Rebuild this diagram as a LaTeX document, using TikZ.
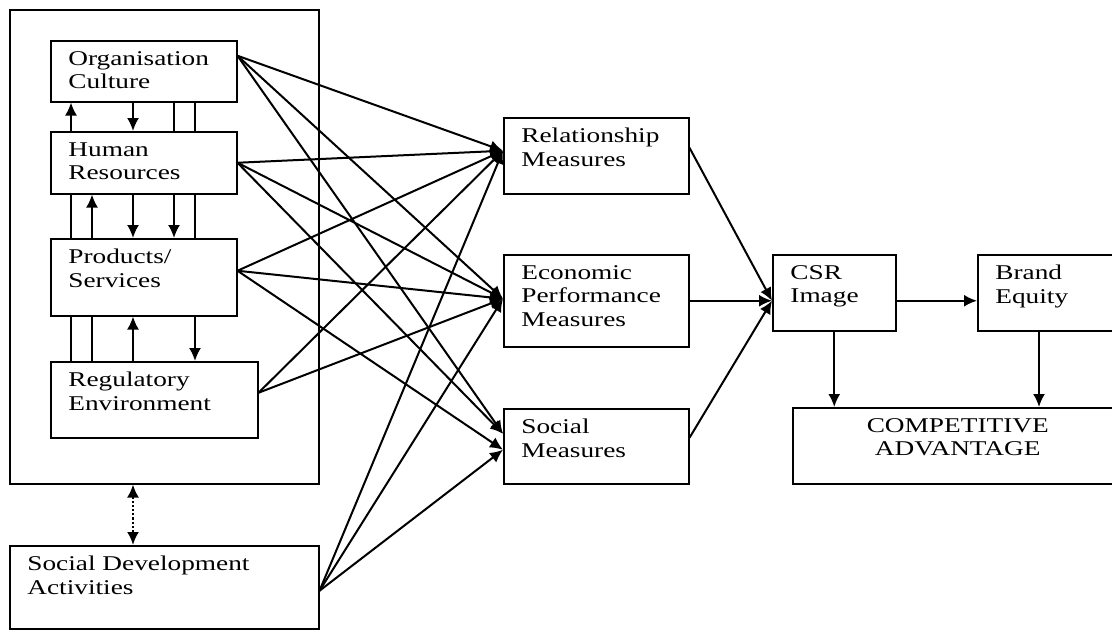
\documentclass[tikz,border=0pt]{standalone}
\usepackage{fontspec}
\setmainfont[FakeStretch=1.3]{Liberation Serif}
\usetikzlibrary{arrows.meta}
\usetikzlibrary{backgrounds}

\begin{document}
\begin{tikzpicture}[x=0.5pt,y=-0.5pt,>={Latex[length=6.5pt,width=6pt]}]
    \tikzstyle{box}=[rectangle,draw,line width=0.75pt,fill=white,anchor=north west,inner sep=0pt]
    \tikzstyle{txt}=[anchor=north west,align=left,inner xsep=9pt,inner ysep=5.5pt,font=\fontsize{10.5}{11.8}\selectfont]
    \tikzstyle{txtc}=[anchor=north,align=center,inner ysep=5.5pt,font=\fontsize{10.5}{11.8}\selectfont]
    \tikzstyle{link}=[->,line width=1pt]
    \clip (0,0) rectangle (1112,632);
    % left block
    \node[box,fill=none,minimum width=154.5pt,minimum height=237pt] (org) at (9,9) {};
    \node[box,minimum width=93pt,minimum height=30.5pt,label={[txt]north west:Organisation\\Culture}] (oc) at (50,40) {};
    \node[box,minimum width=93pt,minimum height=31pt,label={[txt]north west:Human\\Resources}] (hr) at (50,131) {};
    \node[box,minimum width=93pt,minimum height=38.5pt,label={[txt]north west:Products/\\Services}] (ps) at (50,238) {};
    \node[box,minimum width=103.5pt,minimum height=38pt,label={[txt]north west:Regulatory\\Environment}] (re) at (50,361) {};
    \node[box,minimum width=154.5pt,minimum height=41.5pt,label={[txt]north west:Social Development\\Activities}] (sda) at (9,545) {};
    % measures
    \node[box,minimum width=92.5pt,minimum height=38pt,label={[txt]north west:Relationship\\Measures}] (rel) at (503,117) {};
    \node[box,minimum width=92.5pt,minimum height=46pt,label={[txt]north west:Economic\\Performance\\Measures}] (eco) at (503,254) {};
    \node[box,minimum width=92.5pt,minimum height=37.5pt,label={[txt]north west:Social\\Measures}] (soc) at (503,408) {};
    % outcomes
    \node[box,minimum width=61.5pt,minimum height=38pt,label={[txt]north west:CSR\\Image}] (csr) at (772,254) {};
    \node[box,minimum width=72.5pt,minimum height=38pt,label={[txt]north west:Brand\\Equity}] (be) at (977,254) {};
    \node[box,minimum width=165pt,minimum height=38pt,label={[txtc]north:COMPETITIVE\\ADVANTAGE}] (ca) at (792,407) {};

    % links inside the left block
    \begin{scope}[on background layer]
      \draw[link] ([xshift=10.5pt]re.north west) -- ([xshift=10.5pt]oc.south west);
      \draw[link] ([xshift=21pt]re.north west) -- ([xshift=21pt]hr.south west);
      \draw[link] ([xshift=41.5pt]oc.south west) -- ([xshift=41.5pt]hr.north west);
      \draw[link] ([xshift=41.5pt]hr.south west) -- ([xshift=41.5pt]ps.north west);
      \draw[link] ([xshift=41.5pt]re.north west) -- ([xshift=41.5pt]ps.south west);
      \draw[link] ([xshift=62pt]oc.south west) -- ([xshift=62pt]ps.north west);
      \draw[link] ([xshift=72.5pt]oc.south west) -- ([xshift=72.5pt]re.north west);
    \end{scope}
    \draw[<->,densely dotted,line width=1.1pt] ([xshift=62pt]org.south west) -- ([xshift=62pt]sda.north west);

    % fan into the measures
    \coordinate (oc-out) at ([yshift=7.75pt]oc.east);
    \coordinate (hr-out) at (hr.east);
    \coordinate (ps-out) at ([yshift=3.25pt]ps.east);
    \coordinate (re-out) at ([yshift=3.5pt]re.east);
    \coordinate (sda-out) at ([yshift=-1.75pt]sda.east);
    \coordinate (rel-in) at ([yshift=2.5pt]rel.west);
    \coordinate (eco-in) at ([yshift=1pt]eco.west);
    \coordinate (soc-in1) at ([yshift=6.25pt]soc.west);
    \coordinate (soc-in2) at ([yshift=-1.75pt]soc.west);
    \foreach \a/\b in {oc-out/rel-in,oc-out/eco-in,oc-out/soc-in1,
                       hr-out/rel-in,hr-out/eco-in,hr-out/soc-in1,
                       ps-out/rel-in,ps-out/eco-in,ps-out/soc-in2,
                       re-out/rel-in,re-out/eco-in,
                       sda-out/rel-in,sda-out/eco-in,sda-out/soc-in2}
      \draw[link] (\a) -- (\b);

    % measures to image and advantage
    \coordinate (csr-in) at ([yshift=-4pt]csr.west);
    \draw[link] ([yshift=4pt]rel.east) -- (csr-in);
    \draw[link] (eco.east) -- (csr-in);
    \draw[link] ([yshift=4.25pt]soc.east) -- (csr-in);
    \draw[link] (csr-in -| csr.east) -- (csr-in -| be.west);
    \draw[link] (csr.south) -- (csr.south |- ca.north);
    \draw[link] ([xshift=31pt]be.south west) -- ([xshift=31pt]be.south west |- ca.north);
\end{tikzpicture}
\end{document}
